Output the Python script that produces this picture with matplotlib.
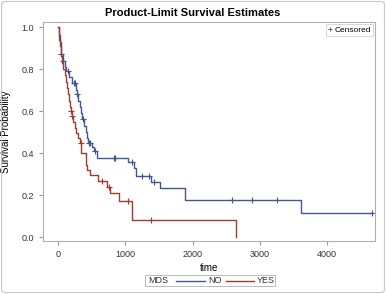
import matplotlib.pyplot as plt
from matplotlib.lines import Line2D
from matplotlib.patches import FancyBboxPatch, Rectangle

# Kaplan-Meier step points (time, survival)
no_times = [0, 10, 20, 30, 45, 70, 100, 125, 165, 200, 260, 280, 300, 320, 340,
            355, 390, 410, 430, 445, 500, 530, 575, 1040, 1130, 1165, 1385,
            1520, 1890, 3615, 4660]
no_surv = [1.0, 0.97, 0.94, 0.91, 0.87, 0.84, 0.81, 0.79, 0.76, 0.735, 0.70,
           0.68, 0.65, 0.62, 0.59, 0.56, 0.53, 0.50, 0.47, 0.45, 0.43, 0.41,
           0.376, 0.357, 0.33, 0.29, 0.26, 0.235, 0.175, 0.117, 0.117]
no_censor = [50, 80, 150, 230, 245, 285, 370, 455, 470, 545, 830, 850, 1100,
             1250, 1350, 1430, 2580, 2880, 3260, 4660]

yes_times = [0, 10, 25, 40, 50, 60, 75, 100, 115, 130, 145, 160, 175, 185, 200,
             215, 250, 270, 300, 320, 345, 410, 425, 470, 590, 730, 765, 910,
             1100, 2640]
yes_surv = [1.0, 0.96, 0.93, 0.89, 0.86, 0.83, 0.80, 0.77, 0.74, 0.71, 0.68,
            0.65, 0.62, 0.60, 0.575, 0.55, 0.52, 0.495, 0.47, 0.45, 0.40, 0.345,
            0.32, 0.295, 0.266, 0.238, 0.21, 0.17, 0.083, 0.0]
yes_censor = [195, 205, 335, 650, 750, 1045, 1380]

groups = ['NO', 'YES']
colors = {'NO': '#445694', 'YES': '#A23A2E'}


def surv_at(times, surv, t):
    s = surv[0]
    for ti, si in zip(times, surv):
        if ti <= t:
            s = si
    return s


plt.rcParams['font.family'] = 'Liberation Sans'
W, H = 386, 294
fig = plt.figure(figsize=(W / 100, H / 100), dpi=100)
ax = fig.add_axes([0.111, 0.180, 0.8605, 0.745])

data = {'NO': (no_times, no_surv, no_censor), 'YES': (yes_times, yes_surv, yes_censor)}
for g in groups:
    t, s, c = data[g]
    ax.step(t, s, where='post', color=colors[g], lw=1.0)
    ax.plot(c, [surv_at(t, s, ci) for ci in c], ls='none', marker='+',
            ms=5, mew=0.8, color=colors[g])

ax.set_xlim(-226, 4710)
ax.set_ylim(-0.019, 1.024)
ax.set_xticks([0, 1000, 2000, 3000, 4000])
ax.set_yticks([0.0, 0.2, 0.4, 0.6, 0.8, 1.0])
ax.set_yticklabels(['0.0', '0.2', '0.4', '0.6', '0.8', '1.0'])
for sp in ax.spines.values():
    sp.set_color('#b0b0b0')
    sp.set_linewidth(0.8)
ax.tick_params(colors='#333333', labelsize=6.5, length=3, color='#999999')
ax.set_xlabel('time', fontsize=7, labelpad=3)
ax.set_ylabel('Survival Probability', fontsize=7, labelpad=7)
fig.text(0.5, 0.955, 'Product-Limit Survival Estimates', ha='center', va='center',
         fontsize=8, fontweight='bold')

# censored legend inside the plot
leg1 = ax.legend([Line2D([], [], ls='none', marker='+', ms=3.5, mew=0.6, color='#555555')],
                 ['Censored'], loc='upper right', fontsize=6, frameon=True,
                 fancybox=False, borderpad=0.25, handlelength=0.5, handletextpad=0.3,
                 borderaxespad=0.2)
leg1.get_frame().set_edgecolor('#cccccc')
leg1.get_frame().set_linewidth(0.7)


# group legend at the bottom, laid out in pixels
def fx(px):
    return px / W


def fy(py):
    return 1 - py / H


fig.patches.append(Rectangle((fx(145), fy(286)), fx(275) - fx(145), fy(275) - fy(286),
                             transform=fig.transFigure, fill=False, ec='#bbbbbb', lw=0.7))
fig.text(fx(148), fy(280.5), 'MDS', ha='left', va='center', fontsize=6.5, color='#333333')
line_x = {'NO': (176, 205), 'YES': (226, 254)}
for g in groups:
    x0, x1 = line_x[g]
    fig.add_artist(Line2D([fx(x0), fx(x1)], [fy(280.5), fy(280.5)], transform=fig.transFigure,
                          color=colors[g], lw=1.0))
    fig.text(fx(x1 + 3), fy(280.5), g, ha='left', va='center', fontsize=6.5, color='#333333')

# outer border
fig.patches.append(FancyBboxPatch((0.004, 0.005), 0.992, 0.99, boxstyle='round,pad=0,rounding_size=0.01',
                                  transform=fig.transFigure, fill=False, ec='#c8c8c8', lw=0.8))

fig.savefig('out.png', dpi=100)
